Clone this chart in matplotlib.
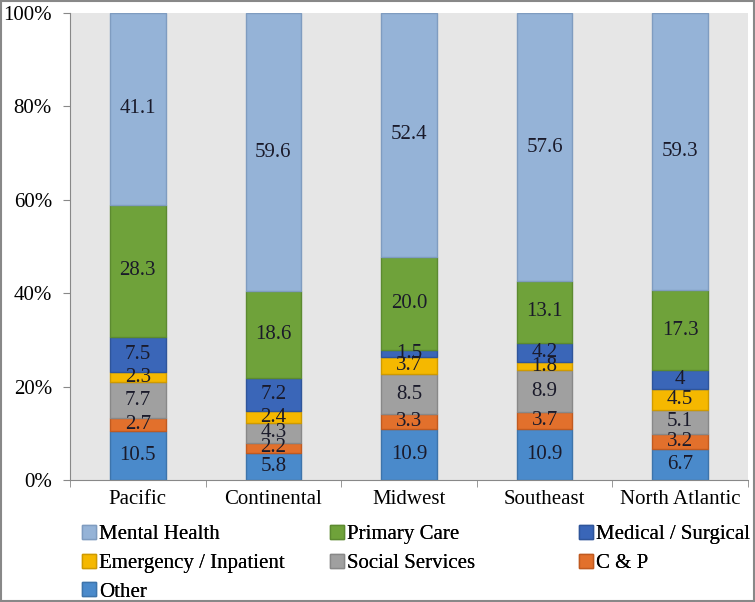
import matplotlib.pyplot as plt
import numpy as np

plt.rcParams['font.family'] = ['Liberation Serif', 'DejaVu Serif']

regions = ['Pacific', 'Continental', 'Midwest', 'Southeast', 'North Atlantic']
series = ['Other', 'C & P', 'Social Services', 'Emergency / Inpatient',
          'Medical / Surgical', 'Primary Care', 'Mental Health']

other = [10.5, 5.8, 10.9, 10.9, 6.7]
c_and_p = [2.7, 2.2, 3.3, 3.7, 3.2]
social = [7.7, 4.3, 8.5, 8.9, 5.1]
emergency = [2.3, 2.4, 3.7, 1.8, 4.5]
medical = [7.5, 7.2, 1.5, 4.2, 4.0]
primary = [28.3, 18.6, 20.0, 13.1, 17.3]
mental = [41.1, 59.6, 52.4, 57.6, 59.3]

# labels as printed on the bars
label_text = {
    'Medical / Surgical': ['7.5', '7.2', '1.5', '4.2', '4'],
}

colors = {
    'Mental Health': '#95b3d7',
    'Primary Care': '#6fa23a',
    'Medical / Surgical': '#3a66b8',
    'Emergency / Inpatient': '#f5b800',
    'Social Services': '#a0a0a0',
    'C & P': '#e2702c',
    'Other': '#4a8acb',
}
edges = {
    'Mental Health': '#7f9cc0',
    'Primary Care': '#5c8a30',
    'Medical / Surgical': '#2f559a',
    'Emergency / Inpatient': '#cf9a00',
    'Social Services': '#888888',
    'C & P': '#c05a20',
    'Other': '#3d74ab',
}

data = np.array([other, c_and_p, social, emergency, medical, primary, mental])
pct = data / data.sum(axis=0) * 100

fs = 15
fig = plt.figure(figsize=(7.55, 6.02), dpi=100)
ax = fig.add_axes([70 / 755, 1 - 480 / 602, 678 / 755, 467 / 602])
ax.set_facecolor('#e6e6e6')

x = np.arange(len(regions))
bottom = np.zeros(len(regions))
handles = {}
for i, name in enumerate(series):
    bars = ax.bar(x, pct[i], 0.41, bottom=bottom, color=colors[name],
                  edgecolor=edges[name], linewidth=1, label=name)
    handles[name] = bars
    texts = label_text.get(name, ['%.1f' % v for v in data[i]])
    for j in range(len(regions)):
        ax.text(x[j], bottom[j] + pct[i][j] / 2, texts[j], ha='center',
                va='center', fontsize=fs, color='#1a1a2a')
    bottom += pct[i]

ax.set_xlim(-0.5, len(regions) - 0.5)
ax.set_ylim(0, 100)
ax.set_yticks(np.arange(0, 101, 20))
ax.set_yticklabels(['%d%%' % v for v in range(0, 101, 20)], fontsize=fs)
ax.set_xticks(x)
ax.set_xticklabels(regions, fontsize=fs)
ax.set_xticks(np.arange(-0.5, len(regions), 1), minor=True)
ax.tick_params(axis='x', which='major', length=0, pad=7)
ax.tick_params(axis='x', which='minor', length=5, color='#888888')
ax.tick_params(axis='y', length=5, color='#888888', pad=8)
for side in ['top', 'right']:
    ax.spines[side].set_visible(False)
for side in ['left', 'bottom']:
    ax.spines[side].set_color('#888888')

# legend laid out row-wise in three columns, one legend per column
columns = [['Mental Health', 'Emergency / Inpatient', 'Other'],
           ['Primary Care', 'Social Services'],
           ['Medical / Surgical', 'C & P']]
col_x = [82, 330, 579]
for names, cx in zip(columns, col_x):
    leg = fig.legend([handles[n] for n in names], names, loc='upper left',
                     bbox_to_anchor=(cx / 755, 1 - 525 / 602),
                     frameon=False,
                     prop={'family': 'Liberation Serif', 'size': fs},
                     handlelength=0.65, handleheight=0.65,
                     handletextpad=0.15, labelspacing=0.45,
                     borderpad=0, borderaxespad=0)
    fig.add_artist(leg)

fig.patches.append(plt.Rectangle((0.001, 0.001), 0.998, 0.998,
                                 transform=fig.transFigure, fill=False,
                                 edgecolor='#888888', linewidth=1.5))

plt.savefig('out.png', dpi=100)
plt.close()
